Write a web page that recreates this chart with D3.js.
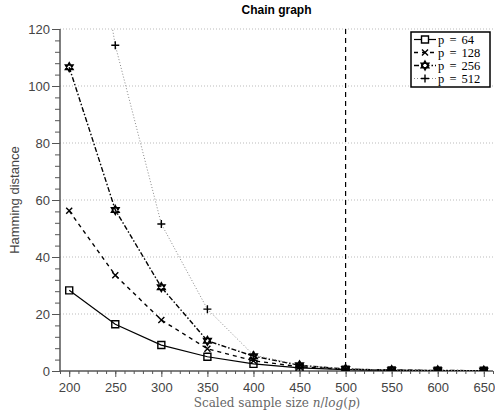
<!DOCTYPE html>
<html><head><meta charset="utf-8">
<script src="https://cdn.jsdelivr.net/npm/d3@7"></script>
<style>body{margin:0;background:#fff}</style>
</head><body>
<svg id="c" width="495" height="413"></svg>
<script>
const xs = [200, 250, 300, 350, 400, 450, 500, 550, 600, 650];
const p64  = [28.3, 16.4, 9.1, 5.0, 2.5, 1.1, 0.5, 0.2, 0.1, 0.1];
const p128 = [56.2, 33.6, 17.9, 7.8, 3.6, 1.5, 0.6, 0.3, 0.1, 0.1];
const p256 = [106.6, 56.5, 29.4, 10.6, 5.2, 2.0, 0.7, 0.3, 0.2, 0.1];
const p512 = [210, 114.3, 51.6, 21.7, 5.6, 2.1, 0.7, 0.3, 0.2, 0.1];
const xTicks = [200, 250, 300, 350, 400, 450, 500, 550, 600, 650];
const yTicks = [0, 20, 40, 60, 80, 100, 120];
const seriesNames = ["p = 64", "p = 128", "p = 256", "p = 512"];
const threshold = 500;

const svg = d3.select("#c");
const L = 60, R = 493, T = 29, B = 371;
const x = d3.scaleLinear().domain([190, 660]).range([L, R]);
const y = d3.scaleLinear().domain([0, 120]).range([B, T]);
const grey = "#444";

// grid
svg.append("g").selectAll("line").data(yTicks.filter(d => d > 0)).join("line")
  .attr("x1", L).attr("x2", R).attr("y1", d => y(d)).attr("y2", d => y(d))
  .attr("stroke", "#bbb").attr("stroke-width", 1).attr("stroke-dasharray", "1,2");

// clip
svg.append("clipPath").attr("id", "clip").append("rect")
  .attr("x", L).attr("y", T).attr("width", R - L).attr("height", B - T);

// axes
const xAxisG = svg.append("g").attr("transform", `translate(0,${B})`);
xAxisG.call(d3.axisBottom(x).tickValues(d3.range(190, 661, 10)).tickSize(3).tickFormat(""))
  .call(g => g.select(".domain").remove());
xAxisG.append("g").call(d3.axisBottom(x).tickValues(xTicks).tickSize(6).tickPadding(6))
  .call(g => g.select(".domain").remove())
  .call(g => g.selectAll("text").attr("font-family", "Liberation Sans, Arial, sans-serif").attr("font-size", 13).attr("fill", grey));
xAxisG.selectAll("line").attr("stroke", "#555");
xAxisG.append("line").attr("x1", L).attr("x2", R).attr("stroke", "#555").attr("stroke-width", 1.5);

const yAxisG = svg.append("g").attr("transform", `translate(${L},0)`);
yAxisG.call(d3.axisLeft(y).tickValues(d3.range(0, 121, 4)).tickSize(5).tickFormat(""))
  .call(g => g.select(".domain").remove());
yAxisG.append("g").call(d3.axisLeft(y).tickValues(yTicks).tickSize(8).tickPadding(2))
  .call(g => g.select(".domain").remove())
  .call(g => g.selectAll("text").attr("font-family", "Liberation Sans, Arial, sans-serif").attr("font-size", 13).attr("fill", grey));
yAxisG.selectAll("line").attr("stroke", "#555");
yAxisG.append("line").attr("y1", T).attr("y2", B).attr("stroke", "#555").attr("stroke-width", 1.5);

// threshold
svg.append("line").attr("x1", x(threshold)).attr("x2", x(threshold)).attr("y1", T).attr("y2", B)
  .attr("stroke", "#000").attr("stroke-width", 1.2).attr("stroke-dasharray", "5,4");

// marker paths
function hexagram(r) {
  const pts = a => d3.range(3).map(i => {
    const t = a + i * 2 * Math.PI / 3;
    return [r * Math.sin(t), -r * Math.cos(t)];
  });
  const t1 = pts(0), t2 = pts(Math.PI);
  return "M" + t1.join("L") + "Z M" + t2.join("L") + "Z";
}
const markers = [
  "M-3.5,-3.5H3.5V3.5H-3.5Z",
  "M-3,-3L3,3M-3,3L3,-3",
  hexagram(4.5),
  "M-4,0H4M0,-4V4"
];
const styles = [
  {dash: null, color: "#000", w: 1.2},
  {dash: "4,4", color: "#000", w: 1.4},
  {dash: "5,2,1.5,2", color: "#000", w: 1.4},
  {dash: "1,2", color: "#888", w: 1}
];
const allSeries = [p64, p128, p256, p512];
const line = d3.line().x((d, i) => x(xs[i])).y(d => y(d));

const plot = svg.append("g").attr("clip-path", "url(#clip)");
allSeries.forEach((s, k) => {
  plot.append("path").attr("d", line(s)).attr("fill", "none")
    .attr("stroke", styles[k].color).attr("stroke-width", styles[k].w)
    .attr("stroke-dasharray", styles[k].dash);
});
allSeries.forEach((s, k) => {
  plot.append("g").selectAll("path").data(s).join("path")
    .attr("transform", (d, i) => `translate(${x(xs[i])},${y(d)})`)
    .attr("d", markers[k]).attr("fill", "none").attr("stroke", "#000").attr("stroke-width", 1.4);
});

// title
svg.append("text").attr("x", (L + R) / 2).attr("y", 14).attr("text-anchor", "middle")
  .attr("font-family", "Liberation Sans, Arial, sans-serif").attr("font-weight", "bold").attr("font-size", 12)
  .text("Chain graph");

// y label
svg.append("text").attr("transform", `translate(19,${(T + B) / 2}) rotate(-90)`).attr("text-anchor", "middle")
  .attr("font-family", "Liberation Sans, Arial, sans-serif").attr("font-size", 13).attr("fill", grey)
  .text("Hamming distance");

// x label
const xl = svg.append("text").attr("x", 277).attr("y", 407).attr("text-anchor", "middle")
  .attr("font-family", "DejaVu Serif, Liberation Serif, serif").attr("font-size", 12).attr("fill", "#666");
xl.append("tspan").text("Scaled sample size ");
xl.append("tspan").attr("font-style", "italic").text("n");
xl.append("tspan").text("/");
xl.append("tspan").attr("font-style", "italic").text("log");
xl.append("tspan").text("(");
xl.append("tspan").attr("font-style", "italic").text("p");
xl.append("tspan").text(")");

// legend
const lg = svg.append("g").attr("transform", "translate(411,32)");
lg.append("rect").attr("width", 79).attr("height", 55).attr("fill", "#fff").attr("stroke", "#000").attr("stroke-width", 1.5);
seriesNames.forEach((n, k) => {
  const yy = 7.5 + k * 13;
  lg.append("line").attr("x1", 3).attr("x2", 25).attr("y1", yy).attr("y2", yy)
    .attr("stroke", styles[k].color).attr("stroke-width", styles[k].w).attr("stroke-dasharray", styles[k].dash);
  lg.append("path").attr("transform", `translate(14,${yy})`).attr("d", markers[k])
    .attr("fill", "#fff").attr("stroke", "#000").attr("stroke-width", 1.4);
  lg.append("text").attr("x", 27).attr("y", yy + 4.5)
    .attr("font-family", "Liberation Serif, DejaVu Serif, serif").attr("font-size", 12.5)
    .attr("word-spacing", 2).text(n);
});
</script>
</body></html>
